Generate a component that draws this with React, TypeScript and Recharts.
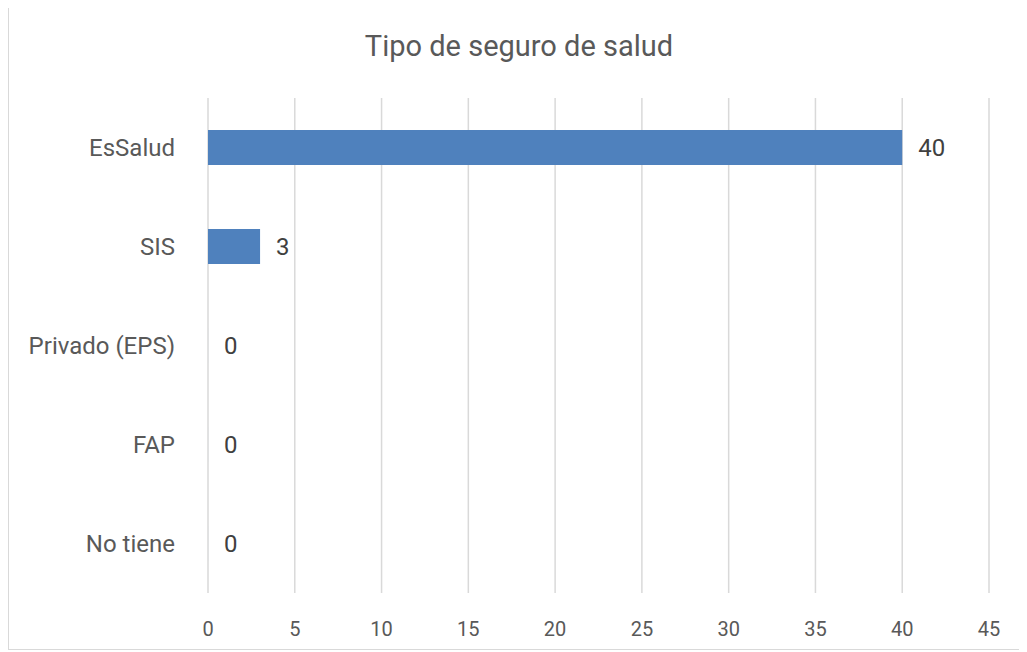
import React from "react";
import {
  BarChart,
  Bar,
  XAxis,
  YAxis,
  CartesianGrid,
  LabelList,
} from "recharts";

const categories = ["EsSalud", "SIS", "Privado (EPS)", "FAP", "No tiene"];
const counts = [40, 3, 0, 0, 0];
const xTicks = [0, 5, 10, 15, 20, 25, 30, 35, 40, 45];

const data = categories.map((name, i) => ({ name, value: counts[i] }));

const FONT = "Roboto, 'Open Sans', sans-serif";

function XTick({ x, y, payload }: any) {
  return (
    <text
      x={x}
      y={y + 28}
      textAnchor="middle"
      dominantBaseline="central"
      fill="#595959"
      fontSize={20}
      fontFamily={FONT}
    >
      {payload.value}
    </text>
  );
}

export default function App() {
  return (
    <div
      style={{
        position: "relative",
        marginTop: -2,
        width: 1012,
        height: 644,
        border: "1px solid #d9d9d9",
        boxSizing: "border-box",
        background: "#fff",
      }}
    >
      <div
        style={{
          position: "absolute",
          top: 26,
          left: 0,
          width: 1020,
          textAlign: "center",
          fontFamily: FONT,
          fontSize: 29,
          lineHeight: "27px",
          color: "#595959",
        }}
      >
        Tipo de seguro de salud
      </div>
      <BarChart
        width={1010}
        height={642}
        data={data}
        layout="vertical"
        margin={{ top: 91, right: 30, bottom: 0, left: 0 }}
        barSize={35}
      >
        <CartesianGrid
          horizontal={false}
          vertical={true}
          stroke="#d9d9d9"
          strokeWidth={1.5}
        />
        <XAxis
          type="number"
          domain={[0, 45]}
          ticks={xTicks}
          interval={0}
          axisLine={false}
          tickLine={false}
          height={56}
          tick={<XTick />}
        />
        <YAxis
          type="category"
          dataKey="name"
          width={199}
          axisLine={false}
          tickLine={false}
          tickSize={0}
          tickMargin={33}
          tick={{ fill: "#595959", fontSize: 24, fontFamily: FONT }}
        />
        <Bar
          dataKey="value"
          fill="#4f81bd"
          minPointSize={0.01}
          isAnimationActive={false}
        >
          <LabelList
            dataKey="value"
            position="right"
            offset={16}
            fill="#404040"
            fontSize={24}
            fontFamily={FONT}
          />
        </Bar>
      </BarChart>
    </div>
  );
}
